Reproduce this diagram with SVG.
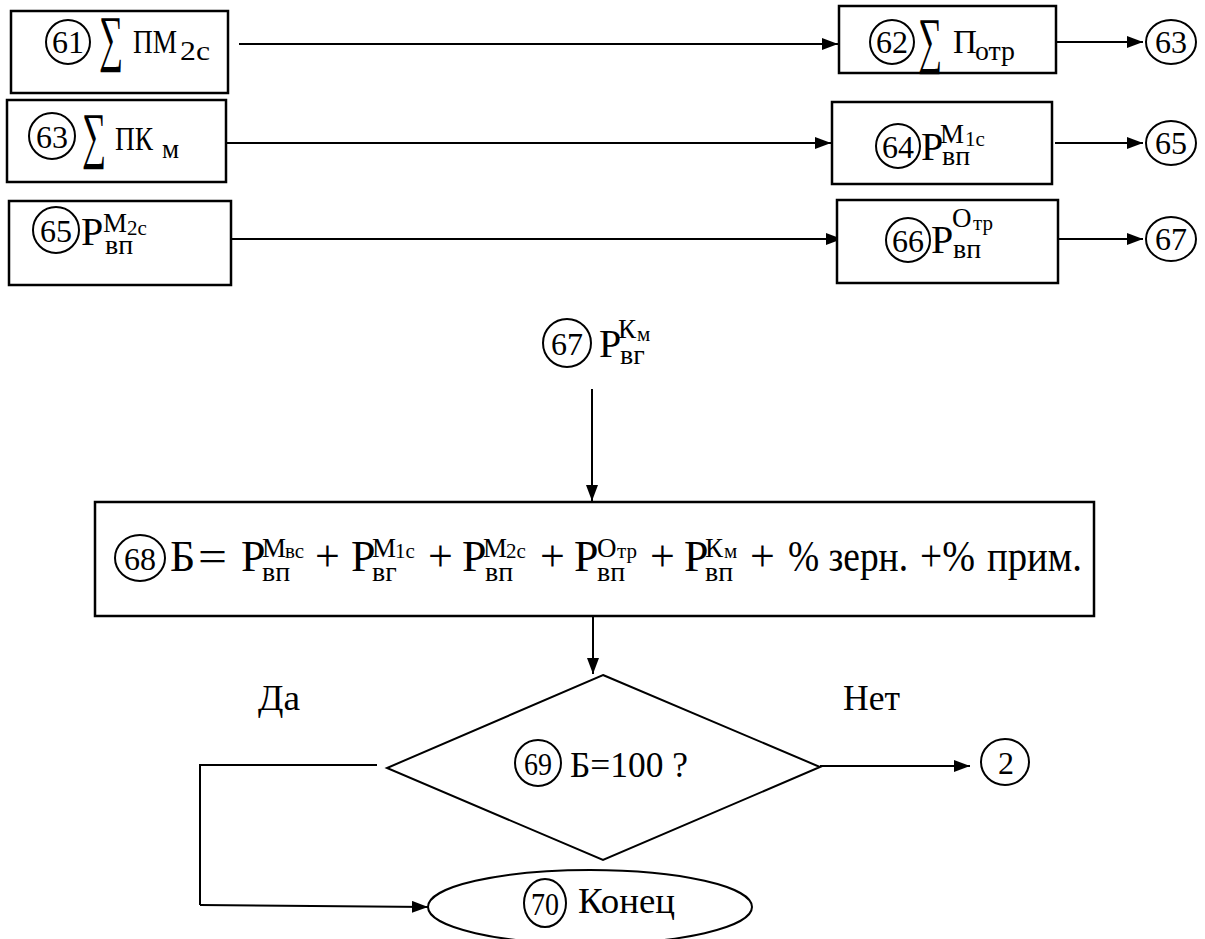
<svg xmlns="http://www.w3.org/2000/svg" width="1205" height="939" viewBox="0 0 1205 939">
<defs>
<style>
.box{fill:#fff;stroke:#000;stroke-width:2.5}
.cn{fill:none;stroke:#000;stroke-width:2}
.c{fill:none;stroke:#000;stroke-width:2}
text{font-family:'Liberation Serif','Times New Roman','DejaVu Serif',serif;fill:#000}
.n{font-size:32px;text-anchor:middle}
.t{font-size:35px}
.sg{font-size:62px}
</style>
<marker id="ah" markerUnits="userSpaceOnUse" markerWidth="16" markerHeight="12" refX="16" refY="6" orient="auto">
<path d="M0,0 L16,6 L0,12 z" fill="#000"/>
</marker>
</defs>
<rect width="1205" height="939" fill="#fff"/>

<g id="connectors">
<line class="cn" x1="239" y1="44" x2="838" y2="44" marker-end="url(#ah)"/>
<line class="cn" x1="1057" y1="42" x2="1143" y2="42" marker-end="url(#ah)"/>
<line class="cn" x1="222" y1="143" x2="831" y2="143" marker-end="url(#ah)"/>
<line class="cn" x1="1055" y1="143" x2="1143" y2="143" marker-end="url(#ah)"/>
<line class="cn" x1="231" y1="239" x2="842" y2="239" marker-end="url(#ah)"/>
<line class="cn" x1="1058" y1="239" x2="1143" y2="239" marker-end="url(#ah)"/>
<line class="cn" x1="592" y1="389" x2="592" y2="501" marker-end="url(#ah)"/>
<line class="cn" x1="593" y1="617" x2="593" y2="674" marker-end="url(#ah)"/>
<line class="cn" x1="820" y1="766" x2="970" y2="766" marker-end="url(#ah)"/>
<polyline class="cn" points="377,765 200,765 200,905"/>
<line class="cn" x1="200" y1="905" x2="428" y2="907" marker-end="url(#ah)"/>
</g>

<g id="n61">
<rect class="box" x="11" y="11" width="217" height="82"/>
<circle class="c" cx="68" cy="42" r="22"/>
<text class="n" x="68" y="53">61</text>
<text class="sg" x="99" y="59" textLength="24" lengthAdjust="spacingAndGlyphs">∑</text>
<text font-size="33"><tspan x="133" y="53" textLength="44" lengthAdjust="spacingAndGlyphs">ПМ</tspan><tspan x="180" y="60" font-size="27" textLength="30" lengthAdjust="spacingAndGlyphs">2с</tspan></text>
</g>

<g id="n62">
<rect class="box" x="839" y="6" width="217" height="67"/>
<circle class="c" cx="892" cy="42" r="22"/>
<text class="n" x="892" y="53">62</text>
<text class="sg" x="918" y="61" textLength="24" lengthAdjust="spacingAndGlyphs">∑</text>
<text font-size="33"><tspan x="953" y="53">П</tspan><tspan x="975" y="60" font-size="27" textLength="40" lengthAdjust="spacingAndGlyphs">отр</tspan></text>
</g>

<g id="c63a">
<ellipse class="c" cx="1171" cy="42" rx="25" ry="22"/>
<text class="n" x="1171" y="53" font-size="34">63</text>
</g>

<g id="n63">
<rect class="box" x="7" y="100" width="219" height="82"/>
<circle class="c" cx="52" cy="136" r="23"/>
<text class="n" x="52" y="148">63</text>
<text class="sg" x="82" y="156" textLength="24" lengthAdjust="spacingAndGlyphs">∑</text>
<text font-size="33"><tspan x="115" y="150" textLength="38" lengthAdjust="spacingAndGlyphs">ПК</tspan><tspan x="162" y="158" font-size="27">м</tspan></text>
</g>

<g id="n64">
<rect class="box" x="832" y="102" width="220" height="82"/>
<circle class="c" cx="898" cy="146" r="22"/>
<text class="n" x="898" y="158">64</text>
<text font-size="40"><tspan x="921" y="160">Р</tspan><tspan x="940" y="143" font-size="27">М</tspan><tspan x="965" y="146" font-size="21">1с</tspan><tspan x="942" y="165" font-size="28">вп</tspan></text>
</g>

<g id="c65a">
<ellipse class="c" cx="1171" cy="143" rx="25" ry="22"/>
<text class="n" x="1171" y="154" font-size="34">65</text>
</g>

<g id="n65">
<rect class="box" x="9" y="201" width="222" height="84"/>
<circle class="c" cx="56" cy="230" r="23"/>
<text class="n" x="56" y="242">65</text>
<text font-size="40"><tspan x="81" y="245">Р</tspan><tspan x="103" y="232" font-size="27">М</tspan><tspan x="127" y="235" font-size="21">2с</tspan><tspan x="105" y="254" font-size="28">вп</tspan></text>
</g>

<g id="n66">
<rect class="box" x="837" y="200" width="221" height="83"/>
<circle class="c" cx="908" cy="240" r="22"/>
<text class="n" x="908" y="252">66</text>
<text font-size="40"><tspan x="931" y="253">Р</tspan><tspan x="952" y="227" font-size="27">О</tspan><tspan x="973" y="230" font-size="21">тр</tspan><tspan x="953" y="258" font-size="28">вп</tspan></text>
</g>

<g id="c67a">
<ellipse class="c" cx="1171" cy="239" rx="25" ry="22"/>
<text class="n" x="1171" y="250" font-size="34">67</text>
</g>

<g id="n67">
<circle class="c" cx="567" cy="343" r="24"/>
<text class="n" x="567" y="355" font-size="34">67</text>
<text font-size="40"><tspan x="599" y="357">Р</tspan><tspan x="618" y="338" font-size="27">К</tspan><tspan x="637" y="341" font-size="21">м</tspan><tspan x="620" y="364" font-size="28">вг</tspan></text>
</g>

<g id="n68">
<rect class="box" x="95" y="502" width="999" height="114"/>
<ellipse class="c" cx="140" cy="558" rx="25" ry="23"/>
<text class="n" x="140" y="570" font-size="36">68</text>
<text font-size="44"><tspan x="170" y="571">Б</tspan><tspan x="198" y="571" textLength="29" lengthAdjust="spacingAndGlyphs">=</tspan><tspan x="241" y="571">Р</tspan><tspan x="262" y="557" font-size="27">М</tspan><tspan x="285" y="558" font-size="21">вс</tspan><tspan x="262" y="581" font-size="28">вп</tspan><tspan x="315" y="571">+</tspan><tspan x="351" y="571">Р</tspan><tspan x="372" y="557" font-size="27">М</tspan><tspan x="395" y="558" font-size="21">1с</tspan><tspan x="372" y="581" font-size="28">вг</tspan><tspan x="428" y="571">+</tspan><tspan x="462" y="571">Р</tspan><tspan x="483" y="557" font-size="27">М</tspan><tspan x="506" y="558" font-size="21">2с</tspan><tspan x="485" y="581" font-size="28">вп</tspan><tspan x="540" y="571">+</tspan><tspan x="574" y="571">Р</tspan><tspan x="597" y="557" font-size="27">О</tspan><tspan x="617" y="558" font-size="21">тр</tspan><tspan x="597" y="581" font-size="28">вп</tspan><tspan x="650" y="571">+</tspan><tspan x="684" y="571">Р</tspan><tspan x="705" y="557" font-size="27">К</tspan><tspan x="724" y="558" font-size="21">м</tspan><tspan x="705" y="581" font-size="28">вп</tspan><tspan x="750" y="571">+</tspan><tspan x="788" y="571" textLength="120" lengthAdjust="spacingAndGlyphs">% зерн.</tspan><tspan x="920" y="571" textLength="55" lengthAdjust="spacingAndGlyphs">+%</tspan><tspan x="987" y="571" textLength="95" lengthAdjust="spacingAndGlyphs">прим.</tspan></text>
</g>

<g id="n69">
<polygon class="c" points="603,675 820,767 603,860 387,768"/>
<circle class="c" cx="538" cy="763" r="23"/>
<text class="n" x="538" y="775" textLength="28" lengthAdjust="spacingAndGlyphs">69</text>
<text class="t" x="570" y="777" textLength="118" lengthAdjust="spacingAndGlyphs">Б=100 ?</text>
</g>

<g id="labels">
<text class="t" x="258" y="710" textLength="42" lengthAdjust="spacingAndGlyphs">Да</text>
<text class="t" x="843" y="710" textLength="57" lengthAdjust="spacingAndGlyphs">Нет</text>
</g>

<g id="n2">
<ellipse class="c" cx="1005" cy="762" rx="24" ry="23"/>
<text class="n" x="1006" y="774">2</text>
</g>

<g id="n70">
<ellipse class="c" cx="590" cy="907" rx="162" ry="37"/>
<ellipse class="c" cx="545" cy="903" rx="21" ry="24"/>
<text class="n" x="545" y="915" textLength="28" lengthAdjust="spacingAndGlyphs">70</text>
<text class="t" x="578" y="913" textLength="97" lengthAdjust="spacingAndGlyphs">Конец</text>
</g>
</svg>
